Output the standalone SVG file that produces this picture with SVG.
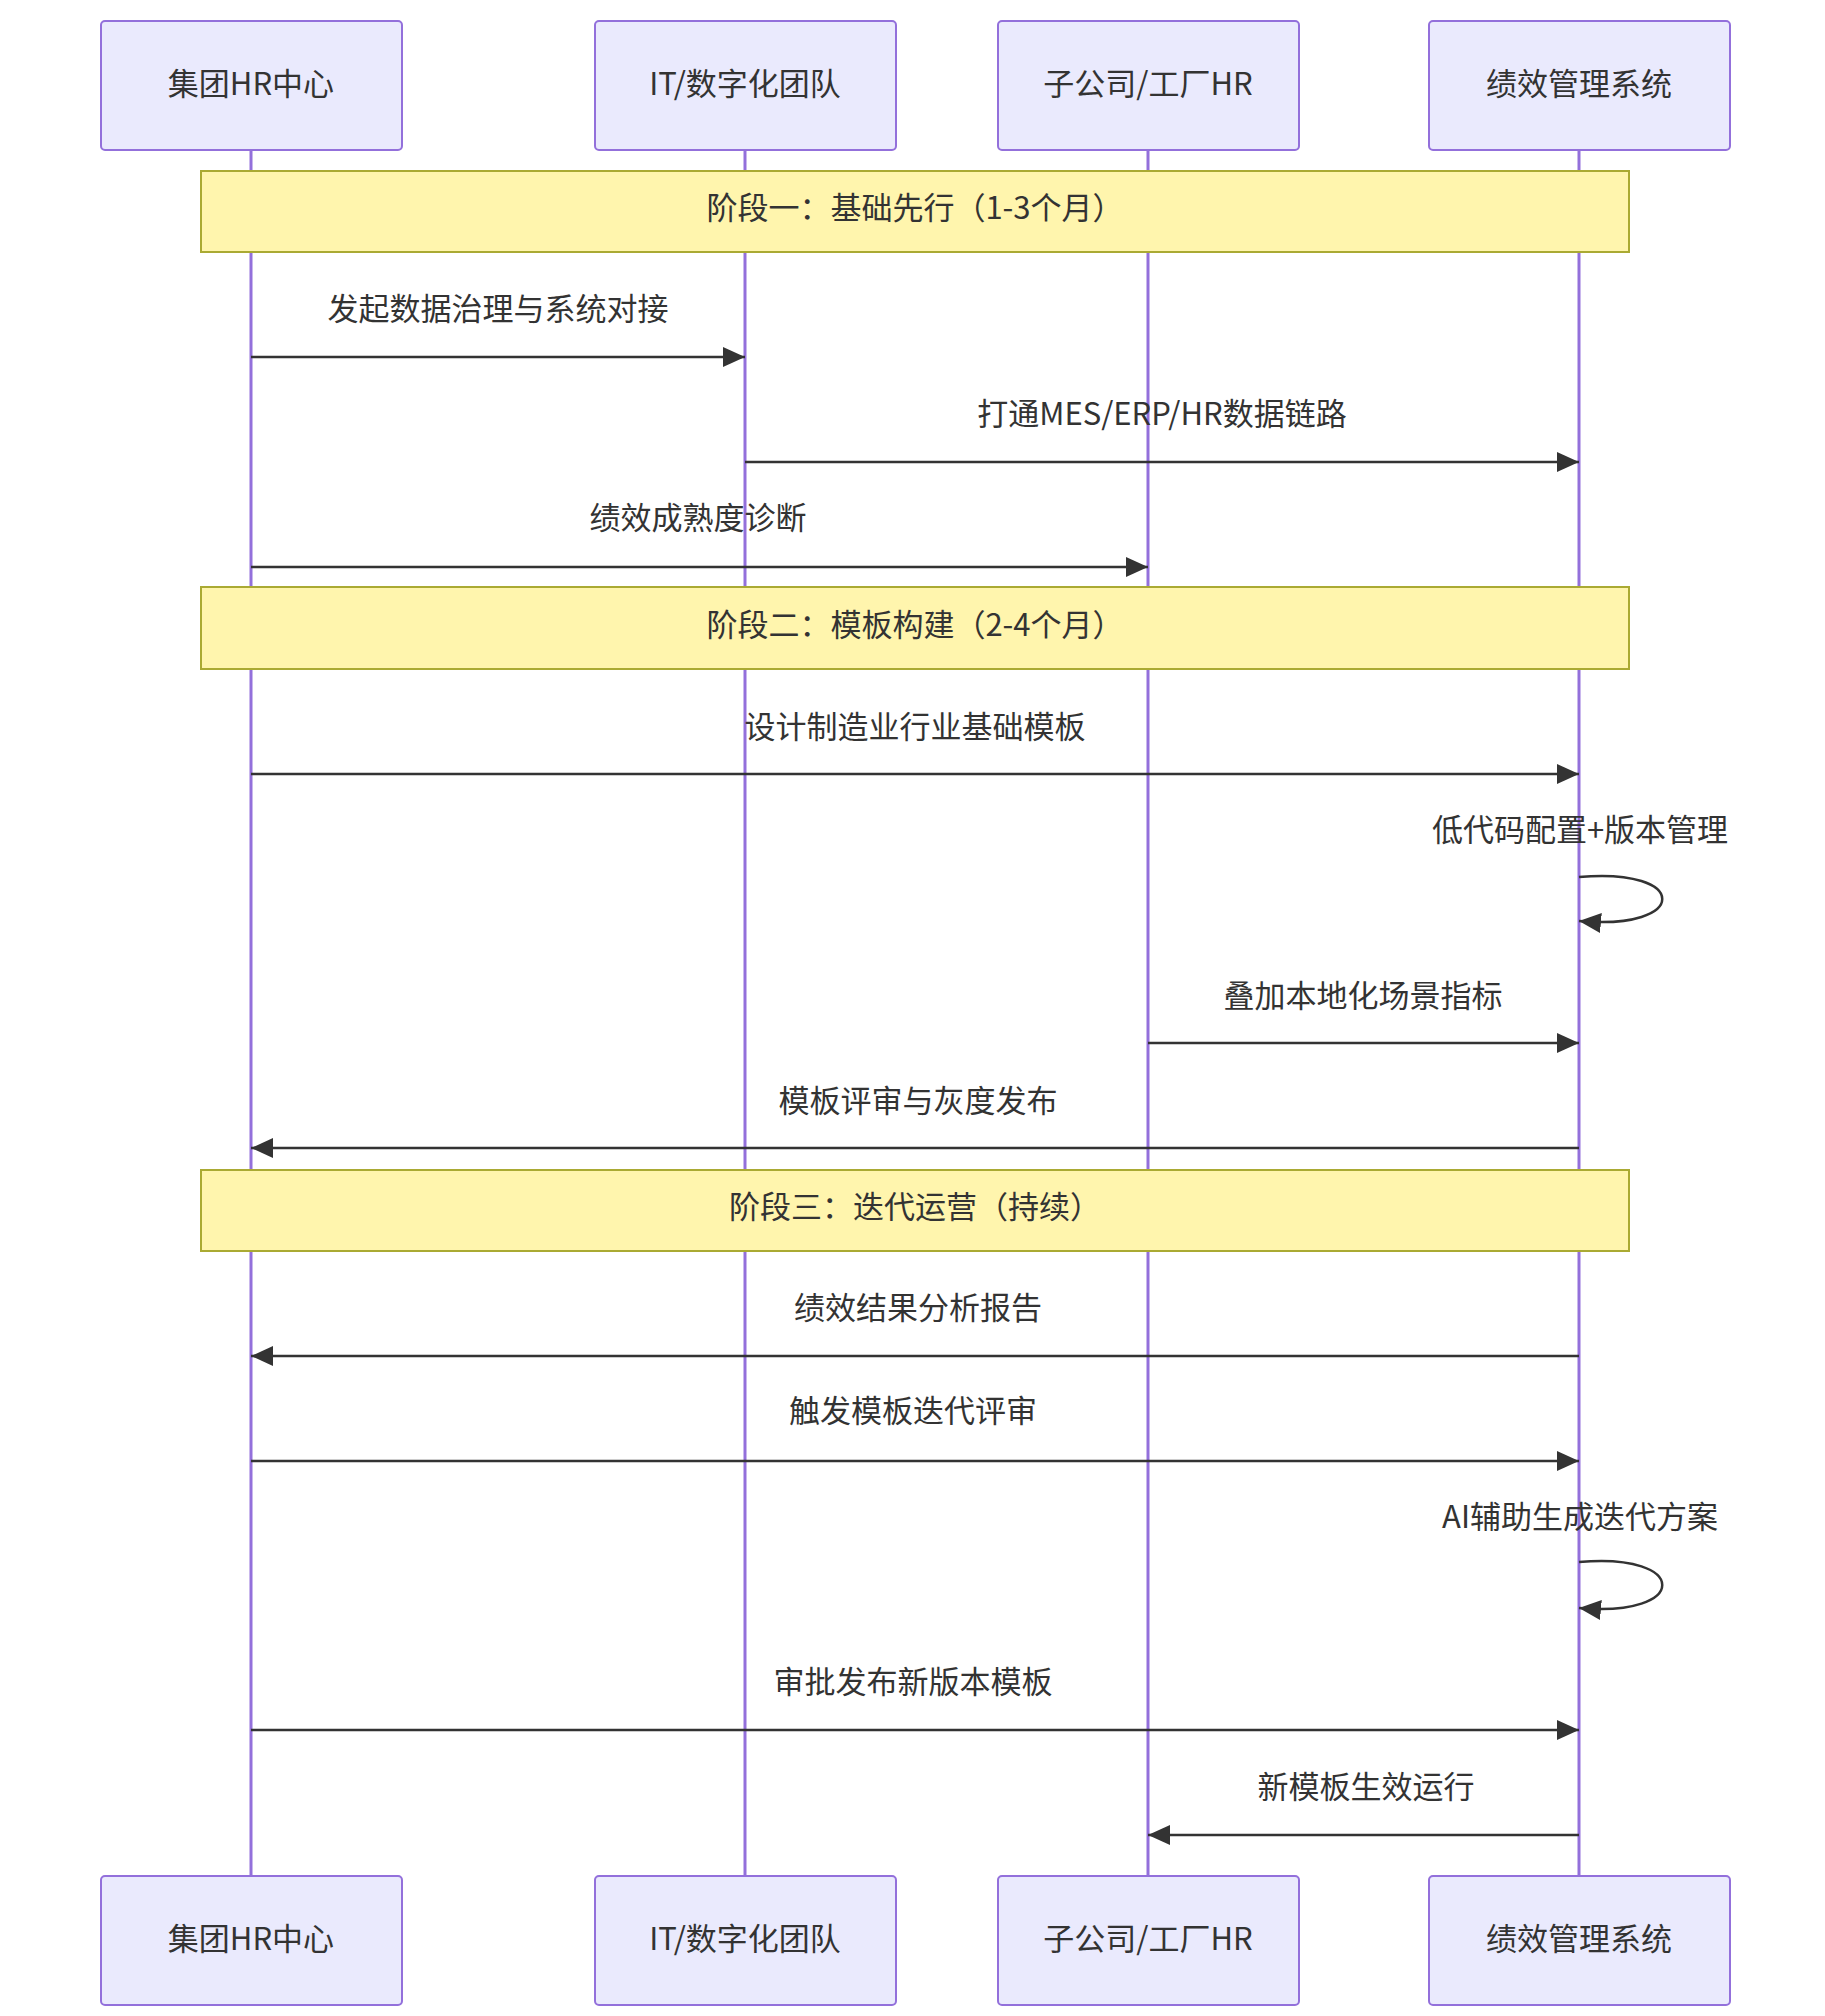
<svg xmlns="http://www.w3.org/2000/svg" width="1825" height="2016" viewBox="0 0 1825 2016">
<style>
.actor{fill:#eaeafd;stroke:#9370db;stroke-width:2}
.life{stroke:#9370db;stroke-width:3}
.note{fill:#fff5ad;stroke:#aaaa33;stroke-width:2}
text{font-family:"Noto Sans CJK SC","Noto Sans",sans-serif;font-size:31px;fill:#333;text-anchor:middle;dominant-baseline:middle}
.msg{stroke:#333;stroke-width:2.5;fill:none}
</style>
<defs>
<marker id="ah" viewBox="0 0 10 10" refX="9" refY="5" markerWidth="10" markerHeight="10" markerUnits="userSpaceOnUse" orient="auto" overflow="visible">
<path d="M-12,-5 L10,5 L-12,15 z" fill="#333" transform="translate(0,0)"/>
</marker>
<marker id="a" viewBox="0 0 22 20" refX="22" refY="10" markerWidth="22" markerHeight="20" markerUnits="userSpaceOnUse" orient="auto"><path d="M0,0 L22,10 L0,20 z" fill="#333"/></marker>
</defs>
<g id="lifelines">
<line class="life" x1="251" y1="150" x2="251" y2="1876"/>
<line class="life" x1="745" y1="150" x2="745" y2="1876"/>
<line class="life" x1="1148" y1="150" x2="1148" y2="1876"/>
<line class="life" x1="1579" y1="150" x2="1579" y2="1876"/>
</g>
<g id="actor-hr-top"><rect class="actor" x="101" y="21" width="301" height="129" rx="4"/><text x="251" y="87">集团HR中心</text></g>
<g id="actor-it-top"><rect class="actor" x="595" y="21" width="301" height="129" rx="4"/><text x="745" y="87">IT/数字化团队</text></g>
<g id="actor-sub-top"><rect class="actor" x="998" y="21" width="301" height="129" rx="4"/><text x="1148" y="87">子公司/工厂HR</text></g>
<g id="actor-sys-top"><rect class="actor" x="1429" y="21" width="301" height="129" rx="4"/><text x="1579" y="87">绩效管理系统</text></g>
<g id="actor-hr-bot"><rect class="actor" x="101" y="1876" width="301" height="129" rx="4"/><text x="251" y="1942">集团HR中心</text></g>
<g id="actor-it-bot"><rect class="actor" x="595" y="1876" width="301" height="129" rx="4"/><text x="745" y="1942">IT/数字化团队</text></g>
<g id="actor-sub-bot"><rect class="actor" x="998" y="1876" width="301" height="129" rx="4"/><text x="1148" y="1942">子公司/工厂HR</text></g>
<g id="actor-sys-bot"><rect class="actor" x="1429" y="1876" width="301" height="129" rx="4"/><text x="1579" y="1942">绩效管理系统</text></g>
<g id="note1"><rect class="note" x="201" y="171" width="1428" height="81"/><text x="915" y="211">阶段一：基础先行（1-3个月）</text></g>
<g id="note2"><rect class="note" x="201" y="587" width="1428" height="82"/><text x="915" y="628">阶段二：模板构建（2-4个月）</text></g>
<g id="note3"><rect class="note" x="201" y="1170" width="1428" height="81"/><text x="915" y="1210">阶段三：迭代运营（持续）</text></g>
<g id="connectors">
<line class="msg" x1="251" y1="357" x2="745" y2="357" marker-end="url(#a)"/>
<line class="msg" x1="745" y1="462" x2="1579" y2="462" marker-end="url(#a)"/>
<line class="msg" x1="251" y1="567" x2="1148" y2="567" marker-end="url(#a)"/>
<line class="msg" x1="251" y1="774" x2="1579" y2="774" marker-end="url(#a)"/>
<path class="msg" d="M1579,877 C1690,867 1690,931 1579,921" marker-end="url(#a)"/>
<line class="msg" x1="1148" y1="1043" x2="1579" y2="1043" marker-end="url(#a)"/>
<line class="msg" x1="1579" y1="1148" x2="251" y2="1148" marker-end="url(#a)"/>
<line class="msg" x1="1579" y1="1356" x2="251" y2="1356" marker-end="url(#a)"/>
<line class="msg" x1="251" y1="1461" x2="1579" y2="1461" marker-end="url(#a)"/>
<path class="msg" d="M1579,1562 C1690,1552 1690,1618 1579,1608" marker-end="url(#a)"/>
<line class="msg" x1="251" y1="1730" x2="1579" y2="1730" marker-end="url(#a)"/>
<line class="msg" x1="1579" y1="1835" x2="1148" y2="1835" marker-end="url(#a)"/>
</g>
<g id="labels">
<text x="498" y="312">发起数据治理与系统对接</text>
<text x="1162" y="417">打通MES/ERP/HR数据链路</text>
<text x="698" y="521">绩效成熟度诊断</text>
<text x="915" y="730">设计制造业行业基础模板</text>
<text x="1580" y="833">低代码配置+版本管理</text>
<text x="1363" y="999">叠加本地化场景指标</text>
<text x="918" y="1104">模板评审与灰度发布</text>
<text x="918" y="1311">绩效结果分析报告</text>
<text x="913" y="1414">触发模板迭代评审</text>
<text x="1580" y="1520">AI辅助生成迭代方案</text>
<text x="913" y="1685">审批发布新版本模板</text>
<text x="1366" y="1790">新模板生效运行</text>
</g>
</svg>
